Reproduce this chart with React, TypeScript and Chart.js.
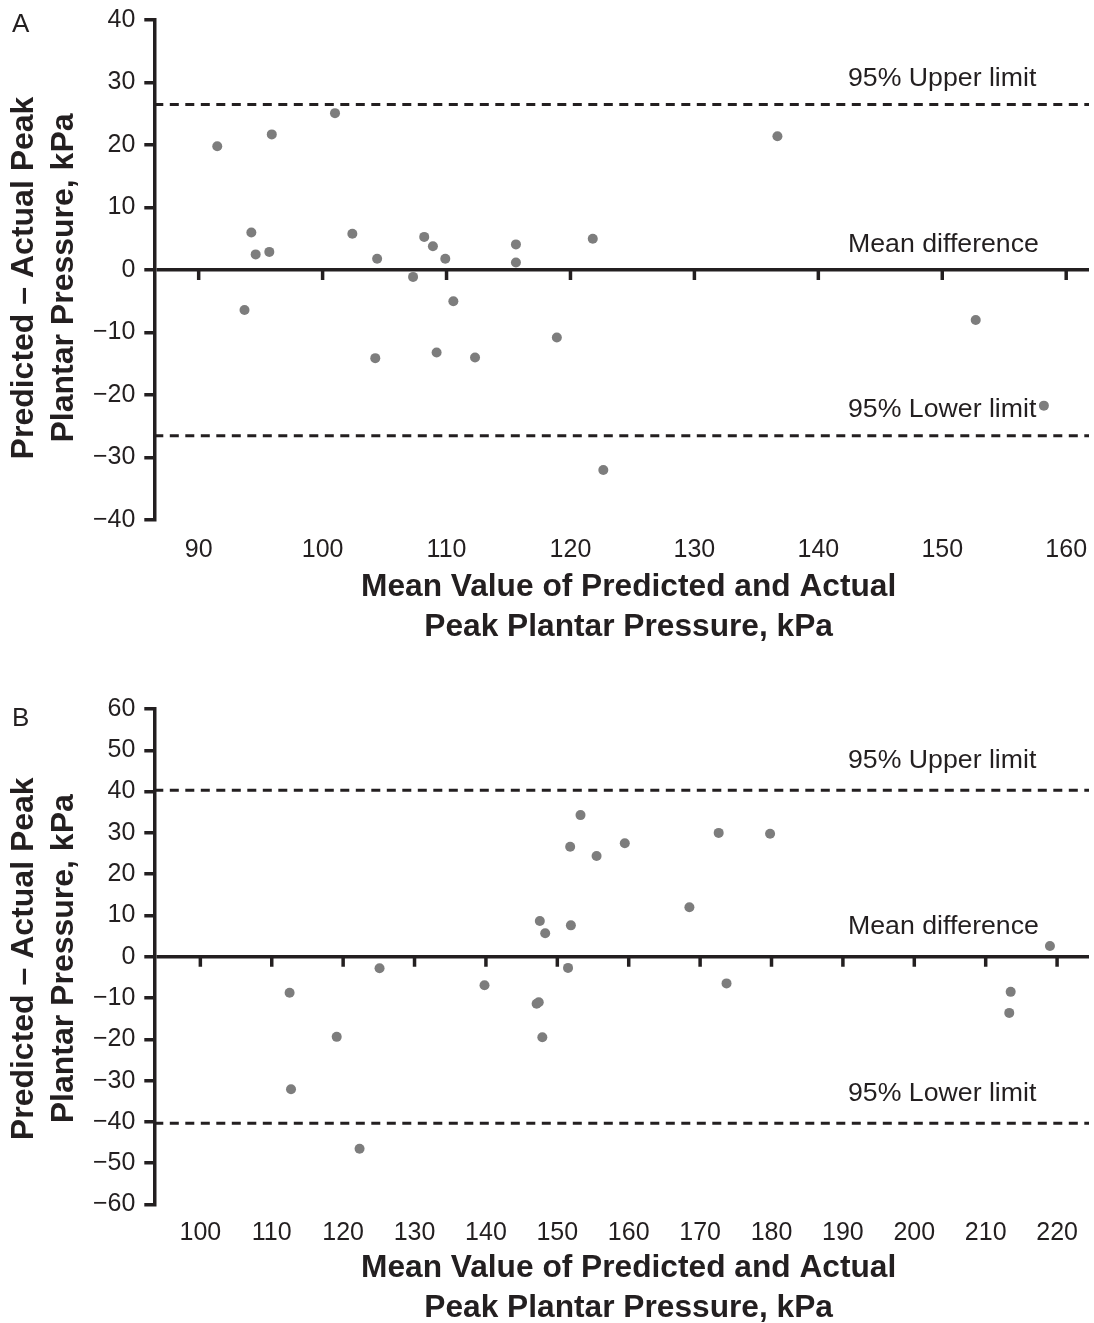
import React, { useEffect, useRef } from 'react';
import { Chart, registerables } from 'chart.js';

Chart.register(...registerables);

const FONT = "'Liberation Sans', Arial, Helvetica, sans-serif";
const INK = '#231f20';
const DOT = '#7d7d7d';

// ---------- Panel A ----------
const A_MEAN = [91.5, 95.9, 101.0, 94.25, 94.6, 95.7, 102.4, 104.4, 108.2, 108.9, 109.9, 115.6, 115.6, 107.3, 136.7, 121.8, 93.7, 110.55, 104.25, 109.2, 112.3, 118.9, 152.7, 158.2, 122.65];
const A_DIFF = [19.8, 21.7, 25.1, 6.0, 2.5, 2.9, 5.8, 1.8, 5.3, 3.8, 1.8, 4.1, 1.2, -1.1, 21.4, 5.0, -6.4, -5.0, -14.1, -13.2, -14.0, -10.8, -8.0, -21.7, -32.0];
const A_LIMITS = [26.5, -26.5];
const A_X_TICKS = [90, 100, 110, 120, 130, 140, 150, 160];
const A_Y_TICKS = [-40, -30, -20, -10, 0, 10, 20, 30, 40];

// ---------- Panel B ----------
const B_MEAN = [147.55, 148.3, 125.1, 112.5, 139.8, 147.1, 147.4, 153.25, 151.8, 155.5, 159.45, 172.6, 179.8, 168.5, 151.9, 219.0, 151.5, 173.7, 213.5, 213.3, 119.1, 147.9, 112.7, 122.3];
const B_DIFF = [8.65, 5.7, -2.8, -8.7, -6.9, -11.4, -11.0, 34.3, 26.65, 24.4, 27.5, 30.0, 29.8, 12.0, 7.6, 2.6, -2.7, -6.45, -8.5, -13.6, -19.4, -19.5, -32.1, -46.5];
const B_LIMITS = [40.3, -40.3];
const B_X_TICKS = [100, 110, 120, 130, 140, 150, 160, 170, 180, 190, 200, 210, 220];
const B_Y_TICKS = [-60, -50, -40, -30, -20, -10, 0, 10, 20, 30, 40, 50, 60];

const LINE_LABELS = ['95% Upper limit', 'Mean difference', '95% Lower limit'];
const X_TITLE = ['Mean Value of Predicted and Actual', 'Peak Plantar Pressure, kPa'];
const Y_TITLE = ['Predicted \u2013 Actual Peak', 'Plantar Pressure, kPa'];

type Panel = {
  letter: string;
  xs: number[];
  ys: number[];
  limits: number[];
  xTicks: number[];
  yTicks: number[];
  xMin: number;
  xMax: number;
  yMin: number;
  yMax: number;
  top: number;
  height: number;
  padTop: number;
  xAxisH: number;
  tickPad: number;
  xTitleGap: number;
  yTitleShift: number;
  labelOffset: number;
  letterY: number;
};

const PANELS: Panel[] = [
  {
    letter: 'A', xs: A_MEAN, ys: A_DIFF, limits: A_LIMITS, xTicks: A_X_TICKS, yTicks: A_Y_TICKS,
    xMin: 86.42, xMax: 161.84, yMin: -40, yMax: 40,
    top: 0, height: 660, padTop: 20, xAxisH: 140, tickPad: 15, xTitleGap: 67, yTitleShift: 8,
    labelOffset: 25.5, letterY: 25,
  },
  {
    letter: 'B', xs: B_MEAN, ys: B_DIFF, limits: B_LIMITS, xTicks: B_X_TICKS, yTicks: B_Y_TICKS,
    xMin: 93.55, xMax: 224.47, yMin: -60, yMax: 60,
    top: 660, height: 663, padTop: 49, xAxisH: 118.5, tickPad: 14, xTitleGap: 63.5, yTitleShift: 2,
    labelOffset: 30, letterY: 59,
  },
];

const fmt = (v: number) => (v < 0 ? '\u2212' + Math.abs(v) : String(v));

function makeOverlay(p: Panel) {
  return {
    id: 'overlay' + p.letter,
    afterDraw(chart: any) {
      const { ctx, chartArea } = chart;
      const x = chart.scales.x;
      const y = chart.scales.y;
      const y0 = y.getPixelForValue(0);
      ctx.save();
      // tick marks hanging below the zero line
      ctx.strokeStyle = INK;
      ctx.lineWidth = 3.5;
      x.ticks.forEach((t: any) => {
        const px = x.getPixelForValue(t.value);
        ctx.beginPath();
        ctx.moveTo(px, y0);
        ctx.lineTo(px, y0 + 10);
        ctx.stroke();
      });
      // line labels
      ctx.fillStyle = INK;
      ctx.font = `26.7px ${FONT}`;
      ctx.textAlign = 'left';
      ctx.textBaseline = 'middle';
      const lx = chartArea.right - 246 + 5;
      const vals = [p.limits[0], 0, p.limits[1]];
      vals.forEach((v, i) => {
        ctx.fillText(LINE_LABELS[i], lx, y.getPixelForValue(v) - p.labelOffset);
      });
      // panel letter
      ctx.font = `26px ${FONT}`;
      ctx.fillText(p.letter, 12, p.letterY);
      // x-axis title
      ctx.font = `bold 31.7px ${FONT}`;
      ctx.textAlign = 'center';
      const cx = (chartArea.left + chartArea.right) / 2 + 7;
      X_TITLE.forEach((line, i) => {
        ctx.fillText(line, cx, chartArea.bottom + p.xTitleGap + i * 40);
      });
      // y-axis title (rotated)
      ctx.font = `bold 32px ${FONT}`;
      const cy = (chartArea.top + chartArea.bottom) / 2 + p.yTitleShift;
      Y_TITLE.forEach((line, i) => {
        ctx.save();
        ctx.translate(24 + i * 40, cy);
        ctx.rotate(-Math.PI / 2);
        ctx.fillText(line, 0, 0);
        ctx.restore();
      });
      ctx.restore();
    },
  };
}

function PanelChart({ p }: { p: Panel }) {
  const ref = useRef<HTMLCanvasElement | null>(null);
  useEffect(() => {
    if (!ref.current) return;
    const points = p.xs.map((xv, i) => ({ x: xv, y: p.ys[i] }));
    const limitLine = (v: number) => ({
      data: [{ x: p.xMin, y: v }, { x: p.xMax, y: v }],
      showLine: true,
      borderColor: INK,
      borderWidth: 3,
      borderDash: [9, 6.5],
      pointRadius: 0,
      fill: false,
    });
    const chart = new Chart(ref.current, {
      type: 'scatter',
      data: {
        datasets: [
          {
            data: points,
            pointRadius: 5,
            pointBackgroundColor: DOT,
            pointBorderWidth: 0,
            pointBorderColor: DOT,
          } as any,
          limitLine(p.limits[0]) as any,
          limitLine(p.limits[1]) as any,
        ],
      },
      options: {
        animation: false,
        responsive: false,
        maintainAspectRatio: false,
        layout: { padding: { top: p.padTop, left: 0, right: 0, bottom: 0 } },
        plugins: { legend: { display: false }, tooltip: { enabled: false } },
        scales: {
          x: {
            type: 'linear',
            min: p.xMin,
            max: p.xMax,
            afterBuildTicks: (s: any) => { s.ticks = p.xTicks.map((v) => ({ value: v })); },
            afterFit: (s: any) => { s.height = p.xAxisH; s.paddingLeft = 0; s.paddingRight = 0; },
            grid: { display: false, drawTicks: false },
            border: { display: false },
            ticks: { autoSkip: false, maxRotation: 0, padding: p.tickPad, color: INK, font: { family: FONT, size: 25 } },
            title: { display: false },
          },
          y: {
            type: 'linear',
            min: p.yMin,
            max: p.yMax,
            afterBuildTicks: (s: any) => { s.ticks = p.yTicks.map((v) => ({ value: v })); },
            afterFit: (s: any) => { s.width = 154.3; s.paddingTop = 0; s.paddingBottom = 0; },
            grid: {
              display: true,
              drawOnChartArea: true,
              drawTicks: true,
              tickLength: 10,
              lineWidth: 3.5,
              tickWidth: 3.5,
              tickColor: INK,
              color: (c: any) => (c.tick && c.tick.value === 0 ? INK : 'rgba(0,0,0,0)'),
            },
            border: { display: true, color: INK, width: 3.5 },
            ticks: { padding: 9, color: INK, font: { family: FONT, size: 25 }, callback: (v: any) => fmt(Number(v)) },
            title: { display: false },
          },
        },
      } as any,
      plugins: [makeOverlay(p)],
    });
    return () => chart.destroy();
  }, [p]);
  return (
    <canvas
      ref={ref}
      width={1094}
      height={p.height}
      style={{ position: 'absolute', left: 0, top: p.top, width: 1094, height: p.height }}
    />
  );
}

export default function App() {
  return (
    <div style={{ position: 'absolute', left: 0, top: 0, width: 1094, height: 1323, overflow: 'hidden', background: '#ffffff' }}>
      {PANELS.map((p) => (
        <PanelChart key={p.letter} p={p} />
      ))}
    </div>
  );
}
